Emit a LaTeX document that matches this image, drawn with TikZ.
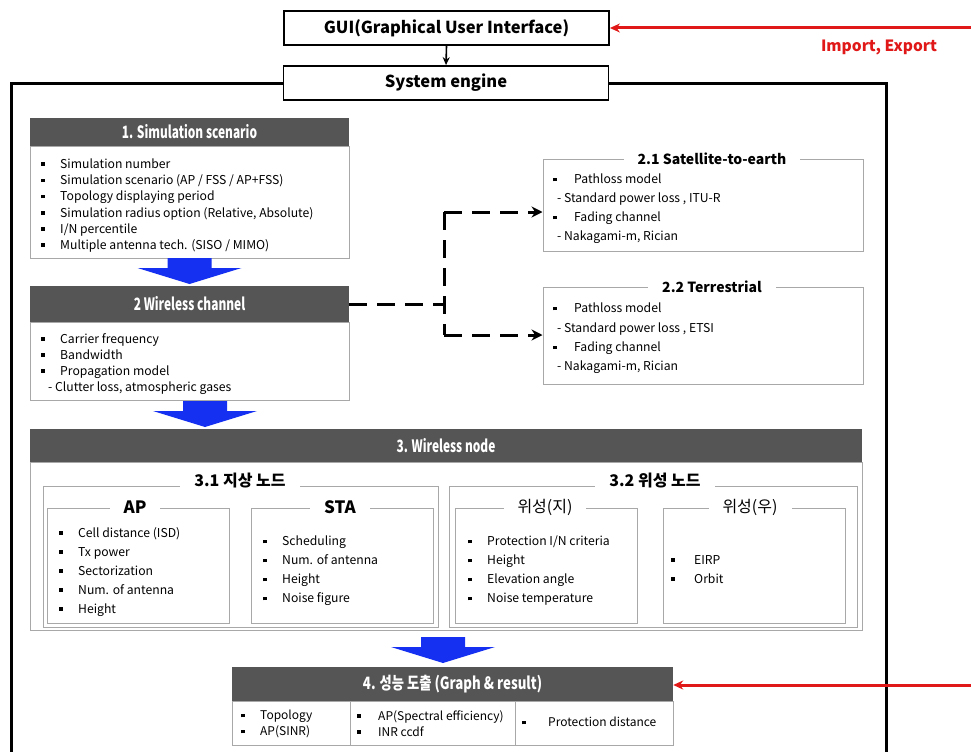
\documentclass[tikz,border=0pt]{standalone}
\usepackage{fontspec}
\setmainfont{Noto Sans CJK KR}
\definecolor{hdrgray}{HTML}{555555}
\definecolor{boxgray}{HTML}{A8A8A8}
\definecolor{arrowblue}{HTML}{1530F0}
\definecolor{linkred}{HTML}{E01818}
\usetikzlibrary{arrows.meta, positioning, calc}
\newcommand{\bul}{\makebox[19pt][l]{\rule[2.5pt]{3.5pt}{3.5pt}}}
\newcommand{\hdrtxt}[1]{\scalebox{0.7}[1]{#1}}

\begin{document}
\begin{tikzpicture}[x=1pt, y=-1pt,
    topbox/.style={draw, line width=1.8pt, fill=white, minimum width=325pt,
       minimum height=34pt, inner sep=0pt, font=\bfseries\fontsize{16.5}{18}\selectfont},
    hdr/.style={fill=hdrgray, text=white, inner sep=0pt, font=\bfseries\fontsize{17}{19}\selectfont},
    bodybox/.style={draw=boxgray, line width=1pt, inner sep=0pt},
    listtxt/.style={align=left, anchor=north west, inner sep=0pt, font=\fontsize{12.2}{16.2}\selectfont},
    boxtitle/.style={fill=white, inner xsep=14pt, inner ysep=1pt, font=\bfseries\fontsize{14}{16}\selectfont},
    dashlink/.style={line width=3pt, dash pattern=on 18pt off 10pt},
    redlink/.style={linkred, line width=3pt, -{Stealth[length=10pt,width=9pt]}},
    bigdown/.pic={\fill[arrowblue] (-22,0) -- (22,0) -- (22,10) -- (52,10) -- (0,26) -- (-52,10) -- (-22,10) -- cycle;}
  ]
  \useasboundingbox (0,0) rectangle (971,752);

  % GUI and engine
  \node[topbox] (gui) at (446.5,28) {GUI(Graphical User Interface)};
  \node[topbox] (eng) at (446,83) {System engine};
  \draw[line width=1.6pt, -{Stealth[length=8pt,width=7pt]}] (gui.south) -- (eng.north);
  \coordinate (framebl) at (11,752);
  \coordinate (framebr) at (886,752);
  \draw[line width=3pt] (eng.west) -| (framebl);
  \draw[line width=3pt] (eng.east) -| (framebr);

  % 1. Simulation scenario
  \node[hdr, minimum width=319pt, minimum height=28pt] (s1h) at (189.5,132) {\hdrtxt{1. Simulation scenario}};
  \node[bodybox, minimum width=319pt, minimum height=112pt] (s1b) at (189.5,202) {};
  \node[listtxt] (s1list) at (41,158.5) {\bul Simulation number\\
    \bul Simulation scenario (AP / FSS / AP+FSS)\\
    \bul Topology displaying period\\
    \bul Simulation radius option (Relative, Absolute)\\
    \bul I/N percentile\\
    \bul Multiple antenna tech. (SISO / MIMO)};
  \pic at (189.5,258) {bigdown};

  % 2. Wireless channel
  \node[hdr, minimum width=319pt, minimum height=36pt] (s2h) at (189.5,304) {\hdrtxt{2 Wireless channel}};
  \node[bodybox, minimum width=319pt, minimum height=78pt] (s2b) at (189.5,361) {};
  \node[listtxt] (s2list) at (41,333) {\bul Carrier frequency\\
    \bul Bandwidth\\
    \bul Propagation model\\
    \hspace*{7pt}- Clutter loss, atmospheric gases};
  \pic at (205,401) {bigdown};

  % 2.1 / 2.2
  \node[bodybox, minimum width=320pt, minimum height=92pt] (s21) at (703,205) {};
  \node[boxtitle] (t21) at (712,159) {2.1 Satellite-to-earth};
  \node[listtxt, font=\fontsize{12.2}{19}\selectfont] (s21list) at (553,174) {\makebox[21pt][l]{\rule[2.5pt]{3.5pt}{3.5pt}}Pathloss model\\
    \hspace*{4pt}- Standard power loss , ITU-R\\
    \makebox[21pt][l]{\rule[2.5pt]{3.5pt}{3.5pt}}Fading channel\\
    \hspace*{4pt}- Nakagami-m, Rician};
  \node[bodybox, minimum width=320pt, minimum height=97pt] (s22) at (703,335.5) {};
  \node[boxtitle] (t22) at (712,287) {2.2 Terrestrial};
  \node[listtxt, font=\fontsize{12.2}{19.3}\selectfont] (s22list) at (553,303) {\makebox[21pt][l]{\rule[2.5pt]{3.5pt}{3.5pt}}Pathloss model\\
    \hspace*{4pt}- Standard power loss , ETSI\\
    \makebox[21pt][l]{\rule[2.5pt]{3.5pt}{3.5pt}}Fading channel\\
    \hspace*{4pt}- Nakagami-m, Rician};

  % dashed branch
  \coordinate (br) at (444,304);
  \coordinate (brt) at (444,212);
  \coordinate (brb) at (444,335);
  \draw[dashlink] (s2h.east) -- (br);
  \draw[dashlink] (brt) -- (brb);
  \draw[dashlink, -{Stealth[length=11pt,width=11pt]}] (brt) -- (brt -| s21.west);
  \draw[dashlink, -{Stealth[length=11pt,width=11pt]}] (brb) -- (brb -| s22.west);

  % 3. Wireless node
  \node[hdr, minimum width=832pt, minimum height=33pt] (s3h) at (446,445.5) {\hdrtxt{3. Wireless node}};
  \node[bodybox, minimum width=832pt, minimum height=168pt] (s3b) at (446,546) {};
  \node[bodybox, minimum width=395pt, minimum height=141pt] (g31) at (240.5,556.5) {};
  \node[boxtitle, font=\bfseries\fontsize{16}{18}\selectfont] (t31) at (240,481) {3.1 지상 노드};
  \node[bodybox, minimum width=182pt, minimum height=115pt] (ap) at (138,565.5) {};
  \node[boxtitle, font=\bfseries\fontsize{17}{19}\selectfont] (tap) at (135,507) {AP};
  \node[bodybox, minimum width=182pt, minimum height=115pt] (sta) at (342,565.5) {};
  \node[boxtitle, font=\bfseries\fontsize{17}{19}\selectfont] (tsta) at (340,507) {STA};
  \node[bodybox, minimum width=408pt, minimum height=141pt] (g32) at (653,556.5) {};
  \node[boxtitle, font=\bfseries\fontsize{16}{18}\selectfont] (t32) at (655,481) {3.2 위성 노드};
  \node[bodybox, minimum width=182pt, minimum height=115pt] (satg) at (546,565.5) {};
  \node[boxtitle, font=\fontsize{16}{18}\selectfont] (tsatg) at (545,507) {위성(지)};
  \node[bodybox, minimum width=182pt, minimum height=115pt] (sats) at (754,565.5) {};
  \node[boxtitle, font=\fontsize{16}{18}\selectfont] (tsats) at (750,507) {위성(우)};
  \node[listtxt, font=\fontsize{12.2}{19}\selectfont] (aplist) at (59,527) {\bul Cell distance (ISD)\\
    \bul Tx power\\
    \bul Sectorization\\
    \bul Num. of antenna\\
    \bul Height};
  \node[listtxt, font=\fontsize{12.2}{19}\selectfont] (stalist) at (263,536) {\bul Scheduling\\
    \bul Num. of antenna\\
    \bul Height\\
    \bul Noise figure};
  \node[listtxt, font=\fontsize{12.2}{19}\selectfont] (satglist) at (468,536) {\bul Protection I/N criteria\\
    \bul Height\\
    \bul Elevation angle\\
    \bul Noise temperature};
  \node[listtxt, font=\fontsize{12.2}{19}\selectfont] (satslist) at (671,555) {\makebox[23pt][l]{\rule[2.5pt]{3.5pt}{3.5pt}}EIRP\\
    \makebox[23pt][l]{\rule[2.5pt]{3.5pt}{3.5pt}}Orbit};
  \pic at (443,637) {bigdown};

  % 4. results
  \node[hdr, minimum width=441pt, minimum height=34pt] (s4h) at (452.5,684) {\scalebox{0.78}[1]{4. 성능 도출 (Graph \& result)}};
  \node[bodybox, minimum width=118pt, minimum height=44pt] (c1) at (291,723) {};
  \node[bodybox, minimum width=165pt, minimum height=44pt] (c2) at (432.5,723) {};
  \node[bodybox, minimum width=158pt, minimum height=44pt] (c3) at (594,723) {};
  \node[listtxt, font=\fontsize{12}{16}\selectfont] (c1list) at (241,710) {\bul Topology\\ \bul AP(SINR)};
  \node[listtxt, font=\fontsize{12}{16}\selectfont] (c2list) at (357,710) {\makebox[21pt][l]{\rule[2.5pt]{3.5pt}{3.5pt}}AP(Spectral efficiency)\\ \makebox[21pt][l]{\rule[2.5pt]{3.5pt}{3.5pt}}INR ccdf};
  \node[listtxt, font=\fontsize{12}{16}\selectfont] (c3list) at (522,717) {\makebox[26pt][l]{\rule[2.5pt]{3.5pt}{3.5pt}}Protection distance};

  % import / export
  \coordinate (guiin) at (971,28);
  \coordinate (resin) at (971,685);
  \draw[redlink] (guiin) -- (gui.east);
  \draw[redlink] (resin) -- (resin -| s4h.east);
  \node[text=linkred, font=\bfseries\fontsize{15.5}{18}\selectfont] (impexp) at (879,47) {Import, Export};
\end{tikzpicture}
\end{document}
